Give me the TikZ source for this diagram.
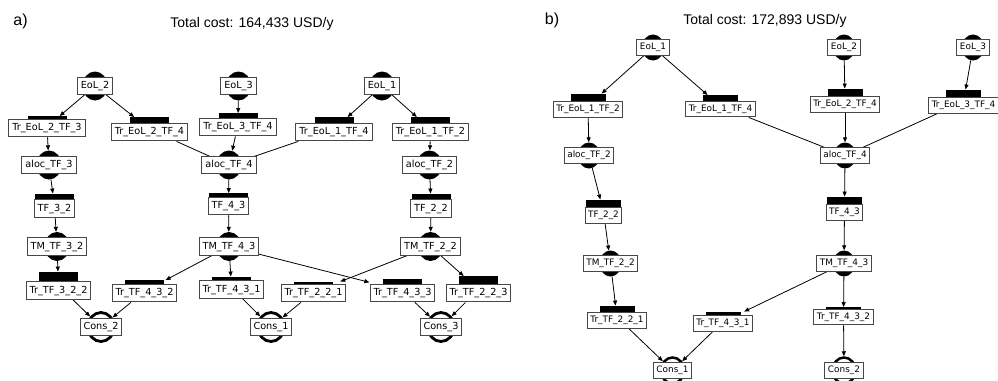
\documentclass[tikz,border=0pt]{standalone}
\usepackage{fontspec}
\setmainfont{DejaVu Sans}
\newfontfamily\titlefont{Liberation Sans}
\usetikzlibrary{arrows.meta,fit,shapes.geometric}
\pgfdeclarelayer{bglayer}
\pgfdeclarelayer{edgelayer}
\pgfsetlayers{bglayer,edgelayer,main}
\tikzset{
  lab/.style={draw=black!72, line width=1pt, fill=white, inner xsep=3.5pt, inner ysep=0pt,
    minimum height=17.5pt, text height=7.3pt, text depth=2.3pt, font=\fontsize{9.7}{10}\selectfont},
  pmark/.style={ellipse, fill=black, inner sep=0pt, minimum width=25pt, minimum height=29pt},
  cmark/.style={ellipse, draw=black, line width=2.8pt, inner sep=0pt, minimum width=26pt, minimum height=29pt},
  edge/.style={line width=0.8pt, -{Triangle[length=5pt,width=4pt]}},
  ttl/.style={font=\titlefont\fontsize{14}{16}\selectfont},
  plab/.style={font=\titlefont\fontsize{16}{18}\selectfont},
}
\def\bwh{19.5}
\def\bhh{8.75}
\newcommand\PL[4]{%
  \node[pmark] (m#1) at (#2,#3) {};
  \node[lab] (#1) at (#2,#3) {#4};}
\newcommand\TR[5]{%
  \fill ({#2-\bwh},{#3-\bhh+0.5}) rectangle ({#2+\bwh},{#3-\bhh-#5});
  \node[lab] (#1) at (#2,#3) {#4};
  \coordinate (t#1) at ({#2},{#3-\bhh-#5});
  \node[inner sep=0pt, fit=(#1)(t#1)] (m#1) {};}
\newcommand\CO[4]{%
  \node[cmark] (m#1) at (#2,#3) {};
  \node[lab] (#1) at (#2,#3) {#4};}
\begin{document}
\begin{tikzpicture}[x=1pt,y=-1pt]
\useasboundingbox (0,0) rectangle (998,380);
\begin{pgfonlayer}{bglayer}
\fill[white] (0,0) rectangle (998,380);
\end{pgfonlayer}
% ---------------- panel a
\node[plab] (pa) at (20.5,21) {a)};
\node[ttl] (ta) at (252,24) {Total cost: 164,433 USD/y};
\PL{aEoLb}{95}{86}{EoL\_2}
\PL{aEoLc}{238.5}{86}{EoL\_3}
\PL{aEoLa}{382}{86}{EoL\_1}
\TR{aTrEbFc}{47}{128}{Tr\_EoL\_2\_TF\_3}{3}
\TR{aTrEbFd}{149.5}{132}{Tr\_EoL\_2\_TF\_4}{6}
\TR{aTrEcFd}{238}{127}{Tr\_EoL\_3\_TF\_4}{5}
\TR{aTrEaFd}{334}{132}{Tr\_EoL\_1\_TF\_4}{6}
\TR{aTrEaFb}{430.5}{132}{Tr\_EoL\_1\_TF\_2}{6}
\PL{aAlc}{49}{165}{aloc\_TF\_3}
\PL{aAld}{229}{165}{aloc\_TF\_4}
\PL{aAlb}{429.5}{165}{aloc\_TF\_2}
\TR{aTFcb}{54.5}{208.5}{TF\_3\_2}{6}
\TR{aTFdc}{228.5}{206}{TF\_4\_3}{4}
\TR{aTFbb}{431}{208.5}{TF\_2\_2}{6}
\PL{aTMcb}{57}{246.5}{TM\_TF\_3\_2}
\PL{aTMdc}{229}{246.5}{TM\_TF\_4\_3}
\PL{aTMbb}{430.5}{246.5}{TM\_TF\_2\_2}
\TR{aTcbb}{58.5}{290.5}{Tr\_TF\_3\_2\_2}{10}
\TR{aTdcb}{144.5}{293}{Tr\_TF\_4\_3\_2}{4}
\TR{aTdca}{231.5}{289.5}{Tr\_TF\_4\_3\_1}{4}
\TR{aTbba}{313.5}{293}{Tr\_TF\_2\_2\_1}{2.5}
\TR{aTdcc}{402.5}{293}{Tr\_TF\_4\_3\_3}{5}
\TR{aTbbc}{478.5}{293}{Tr\_TF\_2\_2\_3}{8}
\CO{aCb}{101}{327}{Cons\_2}
\CO{aCa}{271}{327}{Cons\_1}
\CO{aCc}{441}{327}{Cons\_3}
\begin{pgfonlayer}{edgelayer}
\draw[edge] (maEoLb) -- (maTrEbFc);
\draw[edge] (maEoLb) -- (maTrEbFd);
\draw[edge] (maEoLc) -- (maTrEcFd);
\draw[edge] (maEoLa) -- (maTrEaFd);
\draw[edge] (maEoLa) -- (maTrEaFb);
\draw[edge] (maTrEbFc) -- (maAlc);
\draw[edge] (maTrEbFd) -- (maAld);
\draw[edge] (maTrEcFd) -- (maAld);
\draw[edge] (maTrEaFd) -- (maAld);
\draw[edge] (maTrEaFb) -- (maAlb);
\draw[edge] (maAlc) -- (maTFcb);
\draw[edge] (maAld) -- (maTFdc);
\draw[edge] (maAlb) -- (maTFbb);
\draw[edge] (maTFcb) -- (maTMcb);
\draw[edge] (maTFdc) -- (maTMdc);
\draw[edge] (maTFbb) -- (maTMbb);
\draw[edge] (maTMcb) -- (maTcbb);
\draw[edge] (maTMdc) -- (maTdcb);
\draw[edge] (maTMdc) -- (maTdca);
\draw[edge] (maTMdc) -- (maTdcc);
\draw[edge] (maTMbb) -- (maTbba);
\draw[edge] (maTMbb) -- (maTbbc);
\draw[edge] (maTcbb) -- (maCb);
\draw[edge] (maTdcb) -- (maCb);
\draw[edge] (maTdca) -- (maCa);
\draw[edge] (maTbba) -- (maCa);
\draw[edge] (maTdcc) -- (maCc);
\draw[edge] (maTbbc) -- (maCc);
\end{pgfonlayer}
% ---------------- panel b
\begin{scope}[lab/.append style={inner xsep=3pt, minimum height=15.5pt, text height=6.7pt, text depth=2.1pt, font=\fontsize{8.9}{9}\selectfont},
  pmark/.append style={minimum width=22pt, minimum height=26pt},
  cmark/.append style={minimum width=23pt, minimum height=26pt, line width=2.5pt}]
\def\bwh{17.5}
\def\bhh{7.75}
\node[plab] (pb) at (552,20.5) {b)};
\node[ttl] (tb) at (765,21) {Total cost: 172,893 USD/y};
\PL{bEoLa}{653}{47.5}{EoL\_1}
\PL{bEoLb}{844}{47.5}{EoL\_2}
\PL{bEoLc}{973}{47.5}{EoL\_3}
\TR{bTrEaFb}{588}{109.5}{Tr\_EoL\_1\_TF\_2}{8}
\TR{bTrEaFd}{720.5}{109}{Tr\_EoL\_1\_TF\_4}{6}
\TR{bTrEbFd}{845}{104.5}{Tr\_EoL\_2\_TF\_4}{8}
\TR{bTrEcFd}{963.5}{105.5}{Tr\_EoL\_3\_TF\_4}{8}
\PL{bAlb}{589}{155.5}{aloc\_TF\_2}
\PL{bAld}{845}{155.5}{aloc\_TF\_4}
\TR{bTFbb}{603.5}{215.5}{TF\_2\_2}{8}
\TR{bTFdc}{844.5}{212.5}{TF\_4\_3}{8}
\PL{bTMbb}{610.5}{263.5}{TM\_TF\_2\_2}
\PL{bTMdc}{844}{263.5}{TM\_TF\_4\_3}
\TR{bTbba}{617}{320.5}{Tr\_TF\_2\_2\_1}{7}
\TR{bTdca}{723}{323.5}{Tr\_TF\_4\_3\_1}{4}
\TR{bTdcb}{843.5}{317}{Tr\_TF\_4\_3\_2}{2}
\CO{bCa}{672.5}{370.5}{Cons\_1}
\CO{bCb}{844}{370.5}{Cons\_2}
\begin{pgfonlayer}{edgelayer}
\draw[edge] (mbEoLa) -- (mbTrEaFb);
\draw[edge] (mbEoLa) -- (mbTrEaFd);
\draw[edge] (mbEoLb) -- (mbTrEbFd);
\draw[edge] (mbEoLc) -- (mbTrEcFd);
\draw[edge] (mbTrEaFb) -- (mbAlb);
\draw[edge] (mbTrEaFd) -- (mbAld);
\draw[edge] (mbTrEbFd) -- (mbAld);
\draw[edge] (mbTrEcFd) -- (mbAld);
\draw[edge] (mbAlb) -- (mbTFbb);
\draw[edge] (mbAld) -- (mbTFdc);
\draw[edge] (mbTFbb) -- (mbTMbb);
\draw[edge] (mbTFdc) -- (mbTMdc);
\draw[edge] (mbTMbb) -- (mbTbba);
\draw[edge] (mbTMdc) -- (mbTdca);
\draw[edge] (mbTMdc) -- (mbTdcb);
\draw[edge] (mbTbba) -- (mbCa);
\draw[edge] (mbTdca) -- (mbCa);
\draw[edge] (mbTdcb) -- (mbCb);
\end{pgfonlayer}
\end{scope}
\end{tikzpicture}
\end{document}
